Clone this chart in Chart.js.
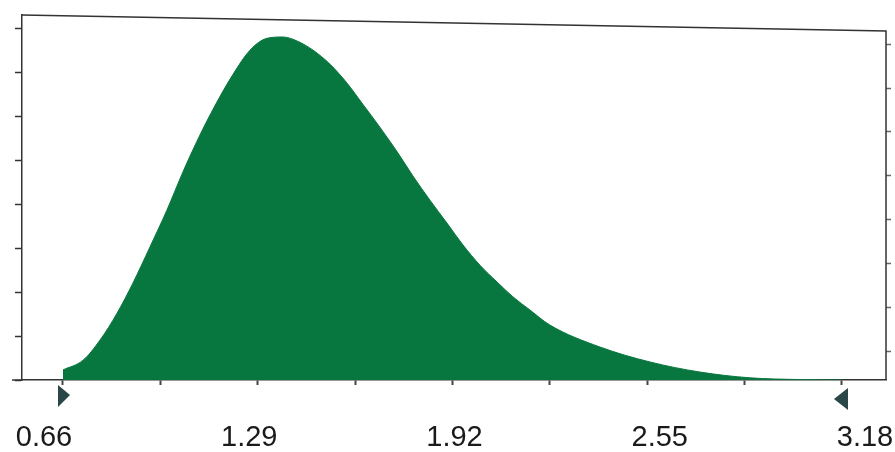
<!DOCTYPE html>
<html>
<head>
<meta charset="utf-8">
<script src="https://cdn.jsdelivr.net/npm/chart.js@4.4.0/dist/chart.umd.min.js"></script>
<style>
  html, body { margin: 0; padding: 0; background: #fff; }
  #wrap { width: 895px; height: 452px; position: relative; }
</style>
</head>
<body>
<div id="wrap"><canvas id="grafico"></canvas></div>
<script>
// ------- datos -------
const valoresX = [0.66, 0.725, 0.78, 0.835, 0.886, 0.941, 0.996, 1.048, 1.103, 1.158, 1.21, 1.265,
  1.32, 1.372, 1.42, 1.469, 1.524, 1.579, 1.63, 1.685, 1.74, 1.792, 1.847, 1.902, 1.954, 2.009,
  2.064, 2.116, 2.171, 2.235, 2.397, 2.559, 2.721, 2.882, 3.044, 3.18];
const valoresY = [0.23, 0.45, 0.91, 1.52, 2.20, 3.02, 3.86, 4.73, 5.57, 6.32, 6.95, 7.50,
  7.77, 7.80, 7.70, 7.50, 7.18, 6.75, 6.27, 5.75, 5.20, 4.64, 4.09, 3.57, 3.07, 2.61,
  2.23, 1.89, 1.59, 1.25, 0.75, 0.41, 0.18, 0.05, 0.01, 0];
const etiquetasX = [0.66, 1.29, 1.92, 2.55, 3.18];
const marcasX = [0.66, 0.975, 1.29, 1.605, 1.92, 2.235, 2.55, 2.865, 3.18];
const marcasY = [0, 1, 2, 3, 4, 5, 6, 7, 8];
const marcasYder = [0.64, 1.64, 2.64, 3.64, 4.64, 5.64, 6.64, 7.64];
const limites = [0.66, 3.18]; // triangulos

const VERDE = '#08773f';
const LINEA = '#333';

// sin margenes automaticos en los ejes
function sinMargen(s) {
  s.paddingLeft = 0; s.paddingRight = 0; s.paddingTop = 0; s.paddingBottom = 0;
}

// marco: borde superior inclinado (escaneo) y borde derecho
const marcoPlugin = {
  id: 'marco',
  afterDraw(chart) {
    const { ctx, chartArea: a } = chart;
    ctx.save();
    ctx.strokeStyle = LINEA;
    ctx.lineWidth = 1.5;
    ctx.beginPath();
    ctx.moveTo(a.left, a.top);
    ctx.lineTo(a.right, a.top + 16);
    ctx.lineTo(a.right, a.bottom);
    ctx.stroke();
    // el eje x sobresale un poco a la izquierda
    ctx.beginPath();
    ctx.moveTo(a.left - 10, a.bottom);
    ctx.lineTo(a.left, a.bottom);
    ctx.stroke();

    // triangulos en los limites
    const xs = chart.scales.x;
    ctx.fillStyle = '#2b4646';
    const p0 = xs.getPixelForValue(limites[0]);
    ctx.beginPath();
    ctx.moveTo(p0 - 5, a.bottom + 5);
    ctx.lineTo(p0 + 7, a.bottom + 15);
    ctx.lineTo(p0 - 5, a.bottom + 27);
    ctx.closePath();
    ctx.fill();
    const p1 = xs.getPixelForValue(limites[1]);
    ctx.beginPath();
    ctx.moveTo(p1 + 6, a.bottom + 8);
    ctx.lineTo(p1 - 8, a.bottom + 19);
    ctx.lineTo(p1 + 6, a.bottom + 30);
    ctx.closePath();
    ctx.fill();
    ctx.restore();
  }
};

const puntos = valoresX.map((x, i) => ({ x: x, y: valoresY[i] }));

new Chart(document.getElementById('grafico'), {
  type: 'line',
  data: {
    datasets: [{
      data: puntos,
      fill: 'origin',
      backgroundColor: VERDE,
      borderColor: VERDE,
      borderWidth: 1,
      pointRadius: 0,
      cubicInterpolationMode: 'monotone'
    }]
  },
  options: {
    responsive: true,
    maintainAspectRatio: false,
    animation: false,
    layout: { autoPadding: false, padding: { left: 15, right: 4, top: 15, bottom: 0 } },
    plugins: { legend: { display: false }, tooltip: { enabled: false } },
    scales: {
      x: {
        type: 'linear',
        min: 0.5274,
        max: 3.3224,
        weight: 0,
        afterBuildTicks: s => { s.ticks = marcasX.map(v => ({ value: v })); },
        afterFit: s => { sinMargen(s); s.height = 5; },
        ticks: { display: false },
        grid: { drawOnChartArea: false, tickLength: 5, tickWidth: 2, tickColor: '#444' },
        border: { display: true, color: LINEA, width: 1.5 }
      },
      // eje solo para los textos (en el original estan algo desplazados)
      xEtiquetas: {
        type: 'linear',
        position: 'bottom',
        min: 0.5925,
        max: 3.2445,
        weight: 1,
        afterBuildTicks: s => { s.ticks = etiquetasX.map(v => ({ value: v })); },
        afterFit: s => { sinMargen(s); s.height = 67; },
        ticks: {
          padding: 38,
          maxRotation: 0,
          autoSkip: false,
          color: '#1a1a1a',
          font: { family: 'Liberation Sans, Arial, sans-serif', size: 29, lineHeight: 1 },
          callback: v => v.toFixed(2)
        },
        grid: { display: false, drawTicks: false },
        border: { display: false }
      },
      y: {
        min: 0,
        max: 8.3,
        afterBuildTicks: s => { s.ticks = marcasY.map(v => ({ value: v })); },
        afterFit: sinMargen,
        ticks: { display: false },
        grid: { drawOnChartArea: false, tickLength: 7, tickWidth: 1.5, tickColor: LINEA },
        border: { display: true, color: LINEA, width: 1.5 }
      },
      y2: {
        position: 'right',
        min: 0,
        max: 8.3,
        afterBuildTicks: s => { s.ticks = marcasYder.map(v => ({ value: v })); },
        afterFit: sinMargen,
        ticks: { display: false },
        grid: { drawOnChartArea: false, tickLength: 5, tickWidth: 1.5, tickColor: '#666' },
        border: { display: false }
      }
    }
  },
  plugins: [marcoPlugin]
});
</script>
</body>
</html>
